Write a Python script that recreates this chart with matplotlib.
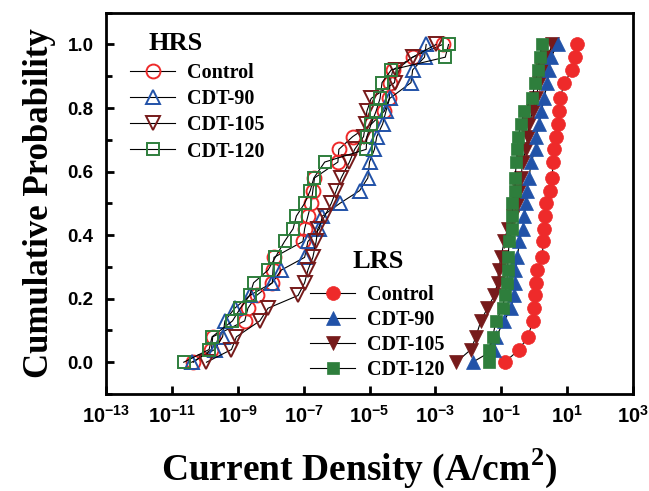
import matplotlib
matplotlib.use("Agg")
import matplotlib.pyplot as plt
from matplotlib.ticker import FixedLocator, MultipleLocator

plt.rcParams["mathtext.fontset"] = "custom"
plt.rcParams["mathtext.rm"] = "Liberation Sans:bold"
plt.rcParams["mathtext.bf"] = "Liberation Sans:bold"
plt.rcParams["mathtext.it"] = "Liberation Sans:bold:italic"
plt.rcParams["mathtext.sf"] = "Liberation Serif:bold"

# cumulative probability (same for every series)
prob = [0.00, 0.04, 0.08, 0.13, 0.17, 0.21, 0.25, 0.29, 0.33, 0.38, 0.42, 0.46, 0.50,
        0.54, 0.58, 0.63, 0.67, 0.71, 0.75, 0.79, 0.83, 0.88, 0.92, 0.96, 1.00]

# current density, stored as log10(A/cm^2)
hrs_control = [-10.35, -9.80, -9.76, -8.79, -8.69, -8.43, -7.95, -7.93, -7.90, -7.02, -6.97, -6.87, -6.77,
               -6.72, -6.67, -5.96, -5.93, -5.51, -4.94, -4.55, -4.40, -4.38, -4.29, -3.69, -2.78]
hrs_cdt90 = [-10.40, -9.70, -9.46, -9.39, -9.09, -8.64, -7.95, -7.68, -6.97, -6.87, -6.52, -6.43, -5.90,
             -5.30, -5.05, -5.00, -4.85, -4.78, -4.60, -4.50, -4.39, -3.74, -3.69, -3.33, -3.28]
hrs_cdt105 = [-9.95, -9.19, -9.04, -8.33, -8.08, -7.17, -6.97, -6.87, -6.72, -6.62, -6.57, -6.36, -6.16,
              -6.01, -5.86, -5.61, -5.45, -5.18, -5.12, -5.08, -4.95, -4.24, -4.19, -3.69, -2.98]
hrs_cdt120 = [-10.64, -9.87, -9.78, -9.16, -8.92, -8.64, -8.52, -8.08, -7.86, -7.58, -7.32, -7.22, -6.97,
              -6.80, -6.69, -6.36, -5.10, -5.08, -4.95, -4.80, -4.68, -4.62, -4.34, -2.70, -2.60]

lrs_control = [-0.90, -0.45, -0.20, -0.03, -0.02, 0.03, 0.05, 0.10, 0.25, 0.27, 0.30, 0.33, 0.35,
               0.47, 0.54, 0.58, 0.61, 0.66, 0.71, 0.74, 0.79, 0.91, 1.16, 1.24, 1.31]
lrs_cdt90 = [-1.87, -1.21, -1.16, -0.91, -0.71, -0.61, -0.58, -0.57, -0.51, -0.45, -0.35, -0.30, -0.25,
             -0.23, -0.15, -0.10, 0.05, 0.07, 0.15, 0.22, 0.30, 0.40, 0.45, 0.50, 0.71]
lrs_cdt105 = [-2.37, -1.92, -1.77, -1.62, -1.42, -1.21, -1.11, -1.08, -1.01, -0.91, -0.81, -0.65, -0.48,
              -0.45, -0.40, -0.35, -0.25, -0.20, -0.15, -0.05, 0.05, 0.15, 0.25, 0.40, 0.55]
lrs_cdt120 = [-1.38, -1.36, -1.26, -1.16, -0.96, -0.89, -0.83, -0.81, -0.79, -0.76, -0.68, -0.66, -0.66,
              -0.58, -0.58, -0.54, -0.51, -0.48, -0.40, -0.30, -0.07, 0.03, 0.12, 0.17, 0.23]

labels = ["Control", "CDT-90", "CDT-105", "CDT-120"]
colors = ["#EE2A2A", "#2152A8", "#761A1A", "#2E7E3C"]
markers = ["o", "^", "v", "s"]
sizes = [10, 9.5, 9.5, 8.5]

x_exps = [-13, -11, -9, -7, -5, -3, -1, 1, 3]

serif = "Liberation Serif"
sans = "Liberation Sans"

fig = plt.figure(figsize=(6.49, 4.91), dpi=100)
ax = fig.add_axes([106 / 649, 97 / 491, 527 / 649, 381.3 / 491])

hrs = [hrs_control, hrs_cdt90, hrs_cdt105, hrs_cdt120]
lrs = [lrs_control, lrs_cdt90, lrs_cdt105, lrs_cdt120]

hrs_handles = []
for vals, lab, c, m, s in zip(hrs, labels, colors, markers, sizes):
    h, = ax.plot([10 ** v for v in vals], prob, color="black", lw=0.8,
                 marker=m, ms=s, mfc="none", mec=c, mew=1.4, label=lab)
    hrs_handles.append(h)

lrs_handles = [None] * 4
for i in [0, 2, 1, 3]:
    h, = ax.plot([10 ** v for v in lrs[i]], prob, color="black", lw=0.8,
                 marker=markers[i], ms=sizes[i], mfc=colors[i], mec=colors[i], mew=0.5,
                 label=labels[i])
    lrs_handles[i] = h

ax.set_xscale("log")
ax.set_xlim(1e-13, 1e3)
ax.set_ylim(-0.1, 1.1)

ax.xaxis.set_major_locator(FixedLocator([10.0 ** e for e in x_exps]))
ax.xaxis.set_minor_locator(FixedLocator([]))
ax.set_xticklabels([r"$\mathrm{10^{%d}}$" % e for e in x_exps])
ax.yaxis.set_major_locator(MultipleLocator(0.2))
ax.yaxis.set_minor_locator(MultipleLocator(0.1))
ax.set_yticks([0.0, 0.2, 0.4, 0.6, 0.8, 1.0])
ax.set_yticklabels(["0.0", "0.2", "0.4", "0.6", "0.8", "1.0"])

ax.tick_params(which="major", direction="in", length=6, width=2, pad=9, labelsize=13.5)
ax.tick_params(axis="x", which="major", labelsize=14.5, pad=8)
ax.tick_params(which="minor", direction="in", length=4, width=2)
for t in ax.get_xticklabels() + ax.get_yticklabels():
    t.set_fontfamily(sans)
    t.set_fontweight("bold")
for sp in ax.spines.values():
    sp.set_linewidth(2)

ax.set_ylabel("Cumulative Probability", fontfamily=serif, fontweight="bold",
              fontsize=25, labelpad=8)
ax.set_xlabel(r"Current Density (A/cm$^{\mathsf{2}}$)", fontfamily=serif, fontweight="bold",
              fontsize=27, labelpad=14)
ax.xaxis.label.set_x(0.48)

leg_font = {"family": serif, "weight": "bold", "size": 14.5}
leg1 = ax.legend(handles=hrs_handles, loc="upper left", bbox_to_anchor=(0.0455, 0.867),
                 frameon=False, prop=leg_font, numpoints=1, handlelength=2.25,
                 handletextpad=0.6, labelspacing=0.3, borderpad=0, borderaxespad=0)
ax.add_artist(leg1)
ax.legend(handles=lrs_handles, loc="upper left", bbox_to_anchor=(0.387, 0.285),
          frameon=False, prop=leg_font, numpoints=1, handlelength=2.25,
          handletextpad=0.6, labelspacing=0.24, borderpad=0, borderaxespad=0)

ax.text(0.0797, 0.9205, "HRS", transform=ax.transAxes, ha="left", va="center",
        fontfamily=serif, fontweight="bold", fontsize=19)
ax.text(0.4668, 0.3462, "LRS", transform=ax.transAxes, ha="left", va="center",
        fontfamily=serif, fontweight="bold", fontsize=19)

fig.savefig("out.png", dpi=100)
